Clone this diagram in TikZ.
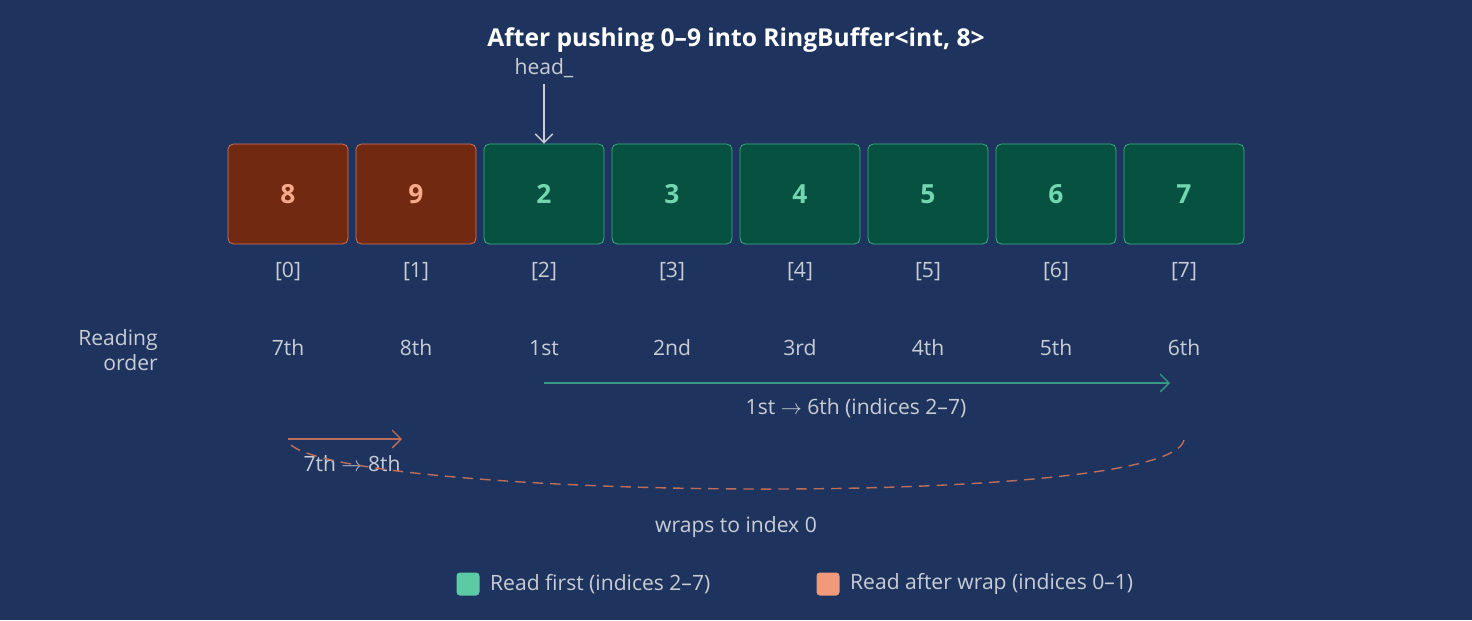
\documentclass[tikz,border=0pt]{standalone}
\usepackage{fontspec}
\setmainfont{Open Sans}
\usepackage{tikz}
\usetikzlibrary{arrows.meta}
\definecolor{BgBlue}{HTML}{1E345E}
\definecolor{RedFill}{HTML}{722912}
\definecolor{RedLine}{HTML}{D9775A}
\definecolor{RedText}{HTML}{F5AA8C}
\definecolor{GreenFill}{HTML}{06513F}
\definecolor{GreenLine}{HTML}{3DB38B}
\definecolor{GreenText}{HTML}{72D6B0}
\definecolor{LabelGray}{HTML}{C9CDD6}
\definecolor{LegGreen}{HTML}{5CCBA5}
\definecolor{LegRed}{HTML}{F0997B}
\tikzset{
  slot/.style={draw, rounded corners=3pt, minimum width=2.4cm, minimum height=2cm, font=\bfseries\fontsize{15}{18}\selectfont},
  oldslot/.style={slot, fill=RedFill, draw=RedLine, text=RedText},
  newslot/.style={slot, fill=GreenFill, draw=GreenLine, text=GreenText},
  lbl/.style={text=LabelGray, font=\fontsize{12}{14}\selectfont},
}
\begin{document}
\begin{tikzpicture}[x=0.02cm,y=-0.02cm]
    \fill[BgBlue] (0,0) rectangle (1472,620);
    \useasboundingbox (0,0) rectangle (1472,620);
    %Title
    \node[text=white, font=\bfseries\fontsize{14}{17}\selectfont] (title) at (736,40) {After pushing 0--9 into RingBuffer<int, 8>};
    %Slots
    \foreach \i/\v in {0/8, 1/9}
      \node[oldslot] (s\i) at (288+128*\i,194) {\v};
    \foreach \i/\v in {2/2, 3/3, 4/4, 5/5, 6/6, 7/7}
      \node[newslot] (s\i) at (288+128*\i,194) {\v};
    %Indices and reading order
    \foreach \i/\o in {0/7th, 1/8th, 2/1st, 3/2nd, 4/3rd, 5/4th, 6/5th, 7/6th} {
      \node[lbl] (idx\i) at (288+128*\i,272) {[\i]};
      \node[lbl] (ord\i) at (288+128*\i,348) {\o};
    }
    \node[lbl, align=right] (readlbl) at (118,350) {Reading\\\quad order};
    %Head pointer
    \node[lbl] (head) at (544,68) {head\_};
    \draw[LabelGray, thick, -{Straight Barb[length=5pt]}] (head.south) -- (s2.north);
    %Reading arrows
    \coordinate (g0) at (544,383);
    \coordinate (g1) at (1170,383);
    \draw[GreenLine!80!BgBlue, thick, -{Straight Barb[length=5pt]}] (g0) -- (g1);
    \node[lbl] (glbl) at (856,408) {1st $\rightarrow$ 6th (indices 2--7)};
    \coordinate (r0) at (288,439);
    \coordinate (r1) at (402,439);
    \draw[RedLine!85!BgBlue, thick, -{Straight Barb[length=5pt]}] (r0) -- (r1);
    \node[lbl] (rlbl) at (352,464) {7th $\rightarrow$ 8th};
    %Wrap curve
    \coordinate (w0) at (1184,440);
    \coordinate (w1) at (288,442);
    \draw[RedLine!85!BgBlue, thick, dashed, dash pattern=on 6pt off 4pt] (w0) .. controls (1170,510) and (330,500) .. (w1);
    \node[lbl] (wlbl) at (736,527) {wraps to index 0};
    %Legend
    \node[fill=LegGreen, rounded corners=2pt, minimum size=0.46cm, inner sep=0pt] (leg1) at (468,584) {};
    \node[lbl, anchor=west] (leg1t) at (484,584) {Read first (indices 2--7)};
    \node[fill=LegRed, rounded corners=2pt, minimum size=0.46cm, inner sep=0pt] (leg2) at (828,584) {};
    \node[lbl, anchor=west] (leg2t) at (844,584) {Read after wrap (indices 0--1)};
\end{tikzpicture}
\end{document}
